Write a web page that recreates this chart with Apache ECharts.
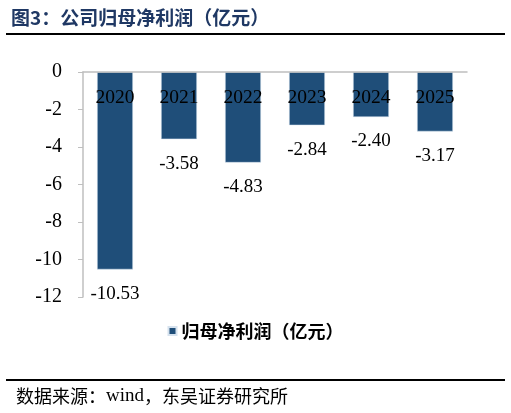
<!DOCTYPE html>
<html>
<head>
<meta charset="utf-8">
<script src="https://cdn.jsdelivr.net/npm/echarts@6/dist/echarts.min.js"></script>
<style>
  html, body { margin: 0; padding: 0; background: #fff; }
  #chart { width: 511px; height: 413px; }
</style>
</head>
<body>
<div id="chart"></div>
<script>
// 数据
const years = ['2020', '2021', '2022', '2023', '2024', '2025']
const profit = [-10.53, -3.58, -4.83, -2.84, -2.40, -3.17]
const seriesName = '归母净利润（亿元）'

const serif = '"Liberation Serif", "Times New Roman", serif'
const cjk = '"Noto Sans CJK SC", sans-serif'

const chart = echarts.init(document.getElementById('chart'))
chart.setOption({
  animation: false,
  title: {
    text: '图3：公司归母净利润（亿元）',
    left: 6,
    top: 3,
    textStyle: { fontFamily: cjk, fontSize: 19, fontWeight: 'bold', color: '#1f3864' }
  },
  graphic: [
    // 标题下方横线
    { type: 'line', shape: { x1: 6, y1: 34, x2: 505, y2: 34 }, style: { stroke: '#000', lineWidth: 2 } },
    // 底部横线
    { type: 'line', shape: { x1: 6, y1: 380, x2: 505, y2: 380 }, style: { stroke: '#000', lineWidth: 2 } },
    {
      type: 'text',
      left: 16,
      top: 387,
      style: {
        text: '{c|数据来源：}{s|wind}{c|，东吴证券研究所}',
        rich: {
          c: { fontFamily: cjk, fontSize: 18, fill: '#000' },
          s: { fontFamily: serif, fontSize: 19, fill: '#000' }
        }
      }
    }
  ],
  legend: {
    bottom: 68,
    left: 'center',
    icon: 'rect',
    itemWidth: 8,
    itemHeight: 8,
    itemGap: 6,
    textStyle: { fontFamily: cjk, fontSize: 18, color: '#000', fontWeight: 'bold' },
    data: [seriesName]
  },
  grid: { left: 83, right: 44, top: 72, bottom: 116 },
  xAxis: {
    type: 'category',
    data: years,
    position: 'top',
    z: 10,
    axisLine: { onZero: false, lineStyle: { color: '#bfbfbf', width: 1.5 } },
    axisTick: { show: false },
    axisLabel: { inside: true, margin: 16, fontFamily: serif, fontSize: 19.5, color: '#000' }
  },
  yAxis: {
    type: 'value',
    min: -12,
    max: 0,
    interval: 2,
    splitLine: { show: false },
    axisLine: { show: true, lineStyle: { color: '#bfbfbf', width: 1.5 } },
    axisTick: { show: true, length: 5, lineStyle: { color: '#bfbfbf' } },
    axisLabel: { margin: 21, fontFamily: serif, fontSize: 20, color: '#000' }
  },
  series: [
    {
      name: seriesName,
      type: 'bar',
      data: profit,
      barWidth: '56%',
      itemStyle: { color: '#1f4e79', borderColor: '#d6e2ee', borderWidth: 0.5 },
      label: {
        show: true,
        position: 'bottom',
        distance: 15,
        fontFamily: serif,
        fontSize: 19,
        color: '#000',
        formatter: (p) => p.value.toFixed(2)
      }
    }
  ]
})
</script>
</body>
</html>
